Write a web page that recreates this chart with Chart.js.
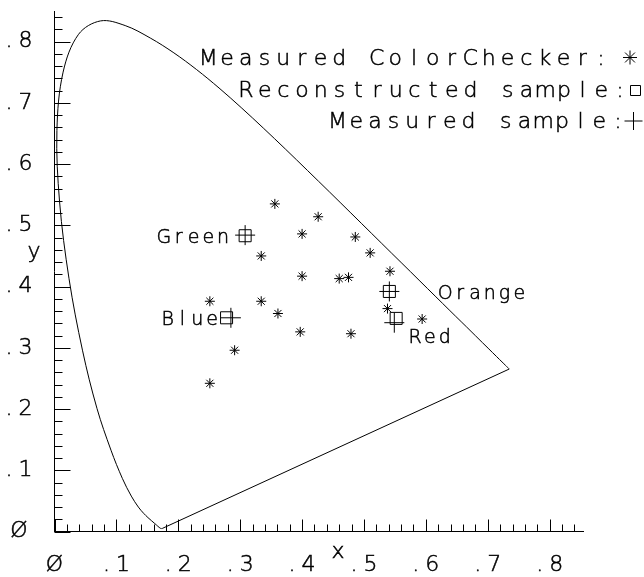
<!DOCTYPE html>
<html>
<head>
<meta charset="utf-8">
<script src="https://cdn.jsdelivr.net/npm/chart.js@4.4.1/dist/chart.umd.min.js"></script>
<style>
  html, body { margin: 0; padding: 0; background: #fff; }
  #wrap { width: 644px; height: 577px; }
</style>
</head>
<body>
<div id="wrap"><canvas id="c" width="644" height="577"></canvas></div>
<script>
// CIE 1931 spectral locus, 380-700 nm in 5 nm steps
const locusX = [0.1741,0.1740,0.1738,0.1736,0.1733,0.1730,0.1726,0.1721,0.1714,0.1703,0.1689,0.1669,0.1644,0.1611,0.1566,0.1510,0.1440,0.1355,0.1241,0.1096,0.0913,0.0687,0.0454,0.0235,0.0082,0.0039,0.0139,0.0389,0.0743,0.1142,0.1547,0.1929,0.2296,0.2658,0.3016,0.3373,0.3731,0.4087,0.4441,0.4788,0.5125,0.5448,0.5752,0.6029,0.6270,0.6482,0.6658,0.6801,0.6915,0.7006,0.7079,0.7140,0.7190,0.7230,0.7260,0.7283,0.7300,0.7311,0.7320,0.7327,0.7334,0.7340,0.7344,0.7346,0.7347];
const locusY = [0.0050,0.0050,0.0049,0.0049,0.0048,0.0048,0.0048,0.0048,0.0051,0.0058,0.0069,0.0086,0.0109,0.0138,0.0177,0.0227,0.0297,0.0399,0.0578,0.0868,0.1327,0.2007,0.2950,0.4127,0.5384,0.6548,0.7502,0.8120,0.8338,0.8262,0.8059,0.7816,0.7543,0.7243,0.6923,0.6589,0.6245,0.5896,0.5547,0.5202,0.4866,0.4544,0.4242,0.3965,0.3725,0.3514,0.3340,0.3197,0.3083,0.2993,0.2920,0.2859,0.2809,0.2770,0.2740,0.2717,0.2700,0.2689,0.2680,0.2673,0.2666,0.2660,0.2656,0.2654,0.2653];

// Measured ColorChecker patches (x, y chromaticity)
const checkerX = [0.356,0.426,0.400,0.486,0.510,0.334,0.542,0.400,0.460,0.475,0.251,0.334,0.361,0.538,0.594,0.397,0.479,0.291,0.251];
const checkerY = [0.535,0.514,0.486,0.481,0.455,0.450,0.425,0.417,0.413,0.415,0.376,0.376,0.356,0.364,0.347,0.326,0.323,0.296,0.242];

// Samples: reconstructed and measured chromaticities
const sampleNames = ['Green', 'Blue', 'Orange', 'Red'];
const reconX = [0.308, 0.278, 0.541, 0.552];
const reconY = [0.483, 0.349, 0.392, 0.348];
const measX  = [0.308, 0.285, 0.541, 0.549];
const measY  = [0.484, 0.349, 0.392, 0.341];

// Axis tick labels (plotter style slashed zero)
const xTickLabels = ['\u00D8', '.1', '.2', '.3', '.4', '.5', '.6', '.7', '.8'];
const yTickLabels = ['\u00D8', '.1', '.2', '.3', '.4', '.5', '.6', '.7', '.8'];

const legendRows = ['Measured ColorChecker:', 'Reconstructed sample:', 'Measured sample:'];

const FAMILY = '"DejaVu Sans", "Liberation Sans", sans-serif';
const TICK_SPACING = 6;
const PEN = 0.5; // extra outline so the thin lettering reads like pen strokes

const pts = (xs, ys) => xs.map((x, i) => ({ x, y: ys[i] }));
const last = locusX.length - 1;
// line of purples joins the two ends of the locus
const purplePts = [{ x: locusX[last], y: locusY[last] }, { x: locusX[0], y: locusY[0] }];

// draw a string one character per fixed-pitch cell (plotter lettering)
function cellText(ctx, str, x, y, pitch, anchor) {
  const n = str.length;
  const first = anchor === 'right' ? x - (n - 1) * pitch : x;
  ctx.textAlign = 'center';
  for (let i = 0; i < n; i++) {
    if (str[i] === ' ') continue;
    ctx.fillText(str[i], first + i * pitch, y);
    ctx.strokeText(str[i], first + i * pitch, y);
  }
}

function marker(ctx, style, x, y, r) {
  ctx.beginPath();
  if (style === 'star') {
    const d = r * Math.SQRT1_2;
    ctx.moveTo(x, y - r); ctx.lineTo(x, y + r);
    ctx.moveTo(x - r, y); ctx.lineTo(x + r, y);
    ctx.moveTo(x - d, y - d); ctx.lineTo(x + d, y + d);
    ctx.moveTo(x - d, y + d); ctx.lineTo(x + d, y - d);
  } else if (style === 'rect') {
    ctx.rect(x - r, y - r, 2 * r, 2 * r);
  } else {
    ctx.moveTo(x, y - r); ctx.lineTo(x, y + r);
    ctx.moveTo(x - r, y); ctx.lineTo(x + r, y);
  }
  ctx.stroke();
}

const plotterDecor = {
  id: 'plotterDecor',
  beforeDraw(chart) {
    chart.ctx.letterSpacing = TICK_SPACING + 'px';
  },
  afterDraw(chart) {
    const ctx = chart.ctx;
    const xs = chart.scales.x, ys = chart.scales.y;
    const x0 = xs.getPixelForValue(0), y0 = ys.getPixelForValue(0);
    ctx.save();
    ctx.letterSpacing = '0px';
    ctx.strokeStyle = '#000';
    ctx.fillStyle = '#000';
    ctx.lineWidth = 1;

    // inward tick marks every 0.02, longer at each tenth
    ctx.beginPath();
    for (let i = 0; i <= 42; i++) {
      const major = i % 5 === 0;
      const px = Math.round(xs.getPixelForValue(i * 0.02)) + 0.5;
      ctx.moveTo(px, y0); ctx.lineTo(px, y0 - (major ? 12 : 7));
      const py = Math.round(ys.getPixelForValue(i * 0.02)) + 0.5;
      ctx.moveTo(x0, py); ctx.lineTo(x0 + (major ? 16 : 8), py);
    }
    ctx.stroke();

    // key markers, upper right
    marker(ctx, 'star', 630, 57.5, 7);
    marker(ctx, 'rect', 635.5, 90.5, 5);
    marker(ctx, 'cross', 633.5, 121, 9);

    ctx.lineWidth = PEN;
    ctx.textBaseline = 'alphabetic';

    // axis names
    ctx.font = '200 22px ' + FAMILY;
    cellText(ctx, 'x', 338, 558, 0, 'left');
    cellText(ctx, 'y', 34, 258, 0, 'left');

    // key text
    const pitch = 18.7;
    cellText(ctx, legendRows[0], 601, 65, pitch, 'right');
    cellText(ctx, legendRows[1], 620, 97, pitch, 'right');
    cellText(ctx, legendRows[2], 618, 128, pitch, 'right');

    // sample names beside their markers
    ctx.font = '200 19px ' + FAMILY;
    const sp = 14.8;
    const at = i => ({ x: xs.getPixelForValue(reconX[i]), y: ys.getPixelForValue(reconY[i]) });
    let p = at(0); cellText(ctx, sampleNames[0], p.x - 22, p.y + 7, sp, 'right');
    p = at(1); cellText(ctx, sampleNames[1], p.x - 14.5, p.y + 7, sp, 'right');
    p = at(2); cellText(ctx, sampleNames[2], p.x + 56, p.y + 7.5, sp, 'left');
    p = at(3); cellText(ctx, sampleNames[3], p.x + 19, p.y + 25, sp, 'left');
    ctx.restore();
  }
};

const tickFont = { family: FAMILY, size: 22, weight: 200 };

new Chart(document.getElementById('c'), {
  type: 'scatter',
  data: {
    datasets: [
      { data: pts(locusX, locusY), showLine: true, borderColor: '#000', borderWidth: 1,
        pointRadius: 0, fill: false, tension: 0.35 },
      { data: purplePts, showLine: true, borderColor: '#000', borderWidth: 1,
        pointRadius: 0, fill: false, tension: 0 },
      { data: pts(checkerX, checkerY), pointStyle: 'star', pointRadius: 5,
        borderColor: '#000', borderWidth: 1, backgroundColor: 'transparent' },
      { data: pts(reconX, reconY), pointStyle: 'rect', pointRadius: 8.5,
        borderColor: '#000', borderWidth: 1, backgroundColor: 'transparent' },
      { data: pts(measX, measY), pointStyle: 'cross', pointRadius: 10,
        borderColor: '#000', borderWidth: 1, backgroundColor: 'transparent' }
    ]
  },
  options: {
    responsive: false,
    animation: false,
    devicePixelRatio: 1,
    events: [],
    layout: { padding: { left: 0, top: 7.05, right: 60.3, bottom: 0 } },
    plugins: { legend: { display: false }, tooltip: { enabled: false } },
    scales: {
      x: {
        type: 'linear', position: 'bottom', min: 0, max: 0.855,
        grid: { display: false },
        border: { display: true, color: '#000', width: 1 },
        ticks: {
          stepSize: 0.1, includeBounds: false, autoSkip: false, maxRotation: 0, color: '#000',
          font: tickFont, padding: 12.5, labelOffset: TICK_SPACING / 2,
          textStrokeColor: '#000', textStrokeWidth: PEN,
          callback: v => xTickLabels[Math.round(v * 10)] ?? ''
        },
        afterFit: s => { s.height = 45.5; s.paddingLeft = 0; s.paddingRight = 0; }
      },
      y: {
        type: 'linear', position: 'left', min: 0, max: 0.85,
        grid: { display: false },
        border: { display: true, color: '#000', width: 1 },
        ticks: {
          stepSize: 0.1, includeBounds: false, autoSkip: false, color: '#000', crossAlign: 'center',
          font: tickFont, padding: 14,
          textStrokeColor: '#000', textStrokeWidth: PEN,
          callback: v => yTickLabels[Math.round(v * 10)] ?? ''
        },
        afterFit: s => { s.width = 54.5; s.paddingTop = 0; s.paddingBottom = 0; }
      }
    }
  },
  plugins: [plotterDecor]
});
</script>
</body>
</html>
